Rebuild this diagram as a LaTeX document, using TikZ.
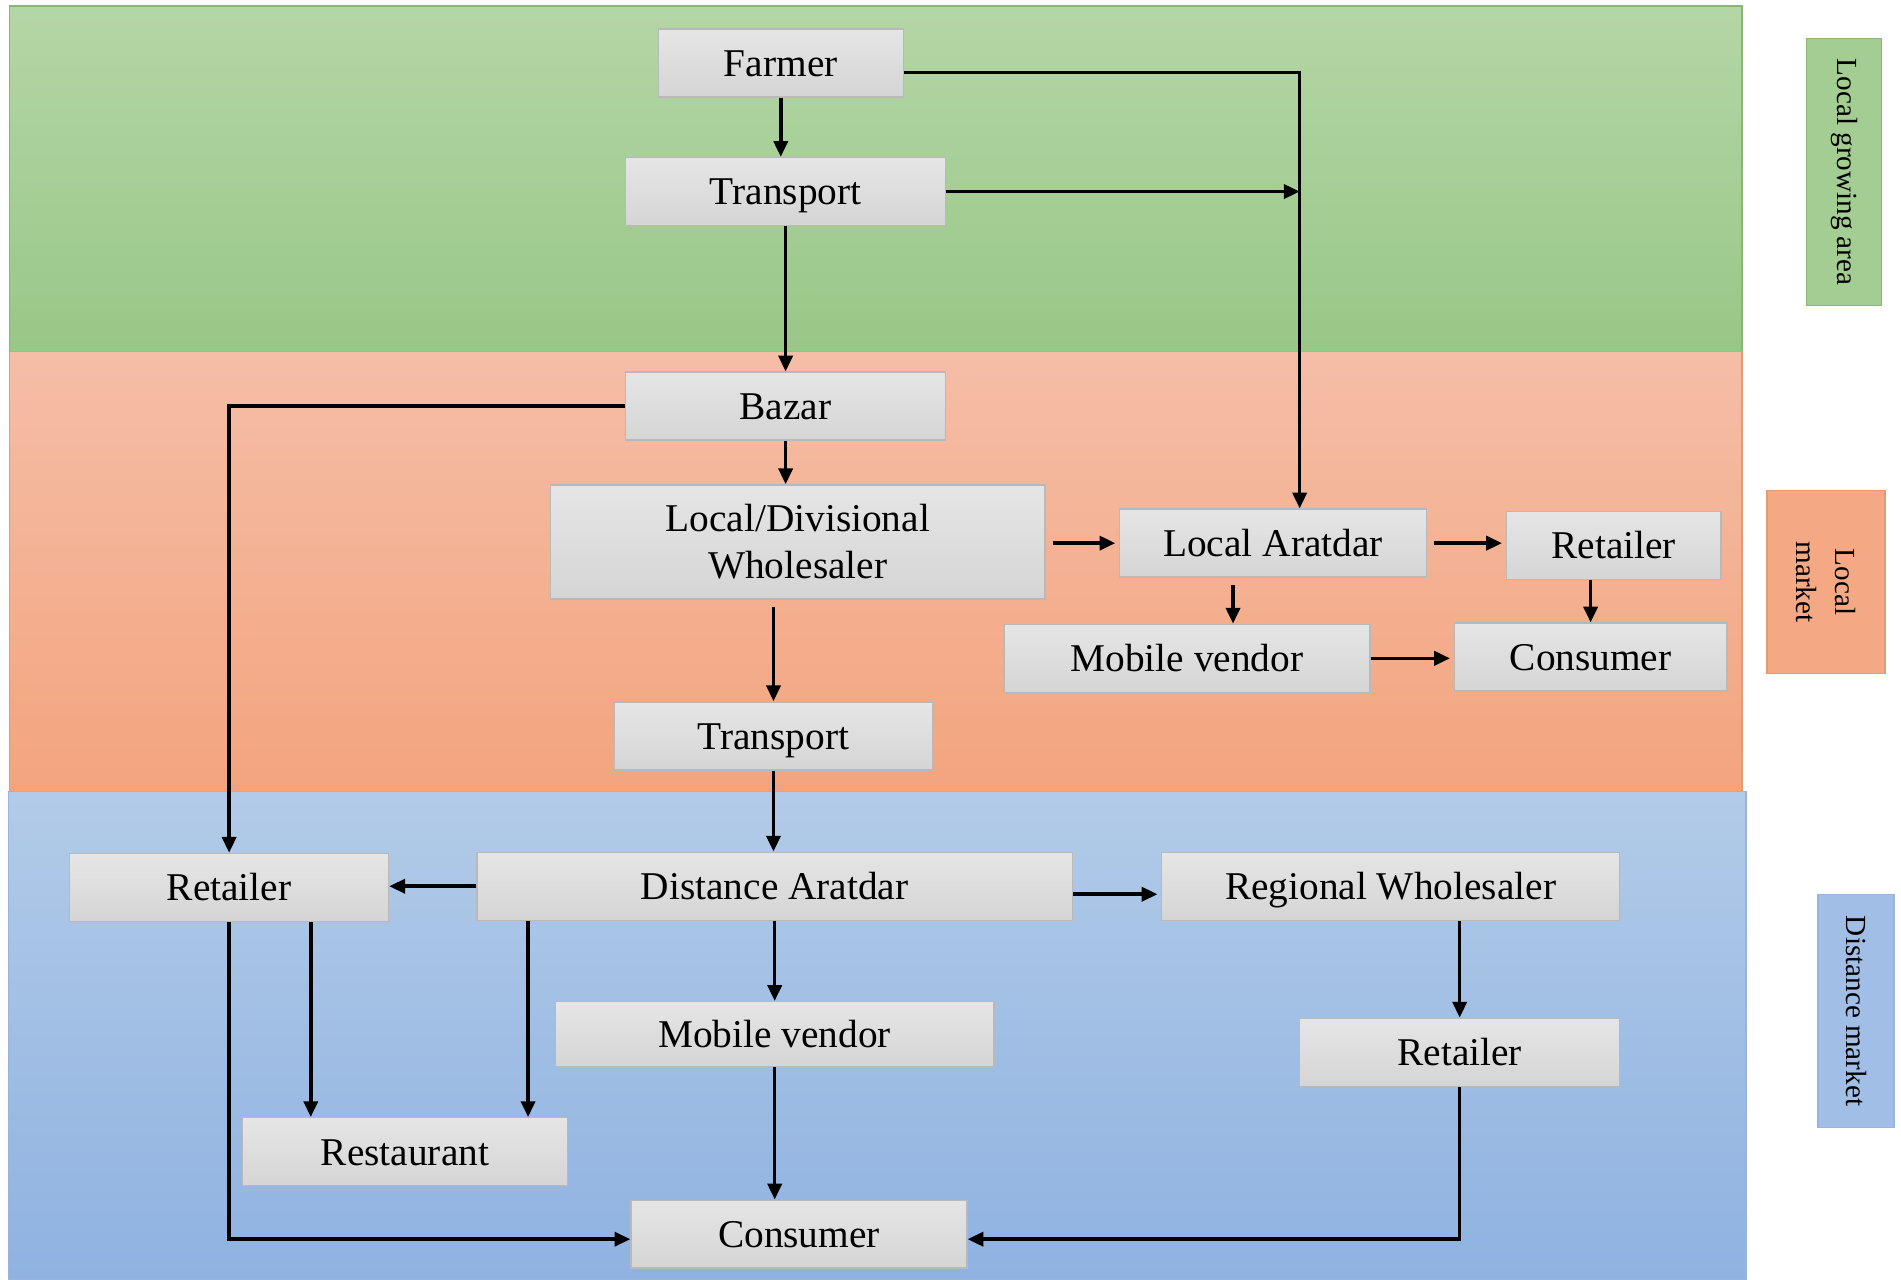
\documentclass[tikz,border=0pt]{standalone}
\usepackage{fontspec}
\setmainfont{Liberation Serif}
\usetikzlibrary{arrows.meta}
\definecolor{greentop}{HTML}{B4D6A6}
\definecolor{greenbot}{HTML}{99C787}
\definecolor{greenline}{HTML}{8AB574}
\definecolor{orangetop}{HTML}{F5BEA7}
\definecolor{orangebot}{HTML}{F3A47E}
\definecolor{orangeline}{HTML}{E39B76}
\definecolor{bluetop}{HTML}{B2CBE8}
\definecolor{bluebot}{HTML}{8FB2E1}
\definecolor{blueline}{HTML}{98B4DC}
\begin{document}
\begin{tikzpicture}[x=0.012124cm,y=-0.012124cm,
    boxbase/.style={draw=gray!55,top color=gray!20,bottom color=gray!33,inner sep=0pt,
        minimum height=0.68cm,align=center,font=\fontsize{11.2}{13.4}\selectfont},
    box/.style={boxbase,text height=0.76em,text depth=0em},
    side/.style={rotate=-90,inner sep=0pt,align=center,font=\fontsize{8.3}{11}\selectfont},
    arr/.style={-{Triangle[length=4.5pt,width=4pt]},line width=1pt}]
    \useasboundingbox (0,0) rectangle (1568,1055);
    % bands
    \shade[top color=greentop,bottom color=greenbot] (8,5) rectangle (1437,290);
    \draw[greenline] (8,5) rectangle (1437,290);
    \shade[top color=orangetop,bottom color=orangebot] (8,290) rectangle (1437,653);
    \draw[orangeline] (8,290) rectangle (1437,653);
    \shade[top color=bluetop,bottom color=bluebot] (7,653) rectangle (1440,1055);
    \draw[blueline] (7,653) rectangle (1440,1055);
    % side labels
    \node[side,draw=greenline,fill=greenbot!90,minimum width=2.67cm,minimum height=0.75cm] (growing) at (1521,142) {Local growing area};
    \node[side,draw=orangeline,fill=orangebot!95,minimum width=1.83cm,minimum height=1.18cm] (localm) at (1506,480) {Local\\market};
    \node[side,draw=blueline,fill=bluebot!85,minimum width=2.33cm,minimum height=0.76cm] (distm) at (1531,834) {Distance market};
    % local growing area
    \node[box,minimum width=2.45cm] (farmer) at (644,52) {Farmer};
    \node[box,minimum width=3.2cm] (transA) at (648,158) {Transport};
    % local market
    \node[box,minimum width=3.2cm] (bazar) at (648,335) {Bazar};
    \node[boxbase,minimum width=4.95cm,minimum height=1.14cm] (ldw) at (658,447) {Local/Divisional\\Wholesaler};
    \node[box,minimum width=3.07cm] (laratdar) at (1050,448) {Local Aratdar};
    \node[box,minimum width=2.15cm] (retL) at (1331,450) {Retailer};
    \node[box,minimum width=3.66cm] (mvL) at (979,543) {Mobile vendor};
    \node[box,minimum width=2.73cm] (conL) at (1312,542) {Consumer};
    \node[box,minimum width=3.19cm] (transB) at (638,607) {Transport};
    % distance market
    \node[box,minimum width=3.19cm] (retD) at (189,732) {Retailer};
    \node[box,minimum width=5.96cm] (daratdar) at (639,731) {Distance Aratdar};
    \node[box,minimum width=4.58cm] (regW) at (1147,731) {Regional Wholesaler};
    \node[box,minimum width=4.39cm,minimum height=0.65cm] (mvD) at (639,853) {Mobile vendor};
    \node[box,minimum width=3.2cm] (retR) at (1204,868) {Retailer};
    \node[box,minimum width=3.25cm] (restaurant) at (334,950) {Restaurant};
    \node[box,minimum width=3.36cm] (conD) at (659,1018) {Consumer};
    \coordinate (turn) at (1072,60);
    % arrows
    \draw[arr] (farmer.south) -- (farmer.south |- transA.north);
    \draw[arr] (farmer.east |- turn) -- (turn) -- (turn |- laratdar.north);
    \draw[arr] (transA.east) -- (transA.east -| turn);
    \draw[arr] (transA.south) -- (bazar.north);
    \draw[arr] (bazar.west) -| (retD.north);
    \draw[arr] (bazar.south) -- (bazar.south |- ldw.north);
    \draw[arr,shorten <=2pt,shorten >=1pt] (ldw.east |- laratdar) -- (laratdar.west);
    \draw[arr,shorten <=2pt] (transB.north |- ldw.south) -- (transB.north);
    \draw[arr,shorten <=2pt,shorten >=1pt] (laratdar.east) -- (laratdar.east -| retL.west);
    \draw[arr,shorten <=2pt] ([xshift=-0.4cm]laratdar.south) -- ([xshift=-0.4cm]laratdar.south |- mvL.north);
    \draw[arr] (conL.north |- retL.south) -- (conL.north);
    \draw[arr,shorten >=1pt] (mvL.east) -- (mvL.east -| conL.west);
    \draw[arr] (transB.south) -- (transB.south |- daratdar.north);
    \draw[arr] (daratdar.west) -- (daratdar.west -| retD.east);
    \draw[arr,shorten >=1pt] ([yshift=-0.08cm]daratdar.east) -- ([yshift=-0.08cm]daratdar.east -| regW.west);
    \draw[arr] (daratdar.south) -- (mvD.north);
    \draw[arr] ([xshift=-0.4cm]restaurant.north east |- daratdar.south) -- ([xshift=-0.4cm]restaurant.north east);
    \draw[arr] ([xshift=0.69cm]restaurant.north west |- retD.south) -- ([xshift=0.69cm]restaurant.north west);
    \draw[arr] (retD.south) |- ([yshift=-0.05cm]conD.west);
    \draw[arr] (mvD.south) -- (mvD.south |- conD.north);
    \draw[arr] (retR.north |- regW.south) -- (retR.north);
    \draw[arr] (retR.south) |- ([yshift=-0.05cm]conD.east);
\end{tikzpicture}
\end{document}
